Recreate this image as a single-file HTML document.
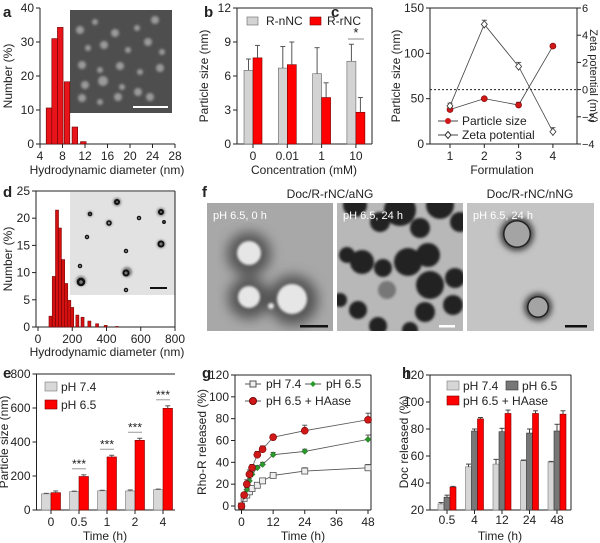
<!DOCTYPE html>
<html><head><meta charset="utf-8"><style>
html,body{margin:0;padding:0;background:#fff;}
svg{display:block;font-family:"Liberation Sans",Arial,sans-serif;}
text{fill:#222;}
</style></head><body>
<svg id="fig" width="600" height="543" viewBox="0 0 600 543" xmlns="http://www.w3.org/2000/svg">
<defs>
<filter id="blur1"><feGaussianBlur stdDeviation="1.2"/></filter>
<filter id="blur3"><feGaussianBlur stdDeviation="3"/></filter>
<filter id="blur6"><feGaussianBlur stdDeviation="6"/></filter>
<clipPath id="clipF1"><rect x="207" y="203" width="126" height="128"/></clipPath>
<clipPath id="clipF2"><rect x="337" y="203" width="126" height="128"/></clipPath>
<clipPath id="clipF3"><rect x="467" y="203" width="127" height="128"/></clipPath>
</defs>
<g>
<rect x="70" y="10" width="102" height="103" fill="#4e4e4e"/>
<g fill="#9a9a9a" filter="url(#blur1)">
<circle cx="80" cy="30" r="4"/><circle cx="95" cy="22" r="3"/><circle cx="115" cy="33" r="4"/><circle cx="137" cy="28" r="3"/><circle cx="155" cy="20" r="4"/><circle cx="88" cy="48" r="3"/><circle cx="104" cy="45" r="4"/><circle cx="128" cy="50" r="3"/><circle cx="148" cy="42" r="4"/><circle cx="162" cy="52" r="3"/><circle cx="82" cy="65" r="4"/><circle cx="100" cy="70" r="3"/><circle cx="120" cy="66" r="4"/><circle cx="140" cy="72" r="3"/><circle cx="160" cy="68" r="4"/><circle cx="85" cy="85" r="4"/><circle cx="103" cy="81" r="5"/><circle cx="122" cy="87" r="3"/><circle cx="138" cy="92" r="4"/><circle cx="82" cy="98" r="4"/><circle cx="100" cy="102" r="3"/><circle cx="118" cy="97" r="4"/><circle cx="150" cy="97" r="4"/>
</g>
<rect x="133" y="106" width="35" height="2" fill="#fff"/>
</g>
<g>
<rect x="70" y="192" width="105" height="103" fill="#e2e2e2"/>
<g fill="#777" filter="url(#blur1)">
<circle cx="117" cy="202" r="4"/><circle cx="161" cy="212" r="4"/><circle cx="109" cy="223" r="3"/><circle cx="161" cy="244" r="4"/><circle cx="127" cy="272" r="5"/><circle cx="81" cy="281" r="5"/><circle cx="90" cy="214" r="2.5"/>
</g>
<g fill="none" stroke="#111" stroke-width="1.5">
<circle cx="117" cy="202" r="2" stroke-width="2"/><circle cx="161" cy="212" r="2" stroke-width="2"/><circle cx="90" cy="214" r="1.5"/><circle cx="109" cy="223" r="2"/><circle cx="139" cy="218" r="1.5"/><circle cx="164" cy="222" r="1.2"/><circle cx="87" cy="237" r="1.5"/><circle cx="161" cy="244" r="2.5" stroke-width="2"/><circle cx="126" cy="251" r="1.5"/><circle cx="80" cy="266" r="1.5"/><circle cx="126" cy="273" r="2.5" stroke-width="2"/><circle cx="81" cy="282" r="3" stroke-width="2.5"/><circle cx="126" cy="290" r="1.5"/>
</g>
<rect x="150" y="287" width="17" height="2" fill="#111"/>
</g>
<g>
<g clip-path="url(#clipF1)">
<rect x="207" y="203" width="126" height="128" fill="#a8a8a8"/>
<g fill="#555" filter="url(#blur6)"><circle cx="249" cy="254" r="22"/><circle cx="249" cy="298" r="21"/><circle cx="293" cy="300" r="25"/><rect x="240" y="290" width="60" height="20"/></g>
<g fill="#e6e6e6" filter="url(#blur1)"><circle cx="249" cy="253" r="12"/><circle cx="249" cy="297" r="11"/><circle cx="292" cy="299" r="15"/><circle cx="271" cy="306" r="3"/></g>
</g>
<rect x="300" y="325" width="28" height="2.5" fill="#111"/>
<text x="213" y="219" font-size="11" style="fill:#fff">pH 6.5, 0 h</text>
</g>
<g>
<g clip-path="url(#clipF2)">
<rect x="337" y="203" width="126" height="128" fill="#b8b8b8"/>
<g fill="#222" filter="url(#blur1)">
<circle cx="355" cy="205" r="12"/><circle cx="400" cy="210" r="16"/><circle cx="440" cy="205" r="14"/><circle cx="460" cy="222" r="10"/><circle cx="380" cy="222" r="10"/><circle cx="420" cy="228" r="10"/>
<circle cx="347" cy="255" r="8"/><circle cx="362" cy="262" r="12"/><circle cx="383" cy="268" r="9"/><circle cx="408" cy="262" r="14"/><circle cx="428" cy="255" r="12"/><circle cx="430" cy="285" r="14"/><circle cx="455" cy="278" r="10"/><circle cx="453" cy="305" r="10"/><circle cx="425" cy="312" r="10"/><circle cx="358" cy="310" r="9"/><circle cx="378" cy="326" r="9"/><circle cx="410" cy="330" r="8"/><circle cx="340" cy="300" r="7"/>
</g>
<circle cx="387" cy="290" r="9" fill="#777" filter="url(#blur1)"/>
</g>
<rect x="439" y="325" width="16" height="2.5" fill="#fff"/>
<text x="343" y="219" font-size="11" style="fill:#fff">pH 6.5, 24 h</text>
</g>
<g>
<g clip-path="url(#clipF3)">
<rect x="467" y="203" width="127" height="128" fill="#c4c4c4"/>
<g fill="#444" filter="url(#blur3)"><circle cx="517" cy="234" r="17"/><circle cx="538" cy="307" r="14"/></g>
<g fill="#222"><circle cx="517" cy="234" r="14"/><circle cx="538" cy="307" r="11"/></g>
<g fill="#a4a4a4"><circle cx="517" cy="234" r="12.5"/><circle cx="538" cy="307" r="9.5"/></g>
</g>
<rect x="565" y="325" width="22" height="2.5" fill="#111"/>
<text x="473" y="219" font-size="11" style="fill:#fff">pH 6.5, 24 h</text>
</g>
<text x="330" y="198" font-size="12" text-anchor="middle">Doc/R-rNC/aNG</text>
<text x="530" y="198" font-size="12" text-anchor="middle">Doc/R-rNC/nNG</text>
<g font-weight="bold" font-size="15">
<text x="3" y="17">a</text>
<text x="204" y="17">b</text>
<text x="331" y="17">c</text>
<text x="3" y="197">d</text>
<text x="202" y="197">f</text>
<text x="3" y="378">e</text>
<text x="202" y="378">g</text>
<text x="402" y="378">h</text>
</g>
</svg>
<script>
// ---- data ----
const aDiam = [5.6, 6.6, 7.6, 8.8, 10.2, 11.7];
const aNumber = [10.6, 31, 34.3, 18.3, 5, 0.7];
const aTicksX = [4, 8, 12, 16, 20, 24, 28];
const aTicksY = [0, 10, 20, 30, 40];

const bCategories = ["0", "0.01", "1", "10"];
const bNNC = [6.5, 6.7, 6.2, 7.3];
const bNNCErr = [1.0, 1.9, 2.3, 1.5];
const bRNC = [7.6, 7.0, 4.1, 2.8];
const bRNCErr = [1.1, 2.0, 1.3, 1.3];
const bTicksY = [0, 3, 6, 9, 12];

const cCategories = [1, 2, 3, 4];
const cSize = [38, 50, 43, 108];
const cSizeErr = [2, 1.5, 3, 2];
const cZeta = [-1.2, 4.8, 1.7, -3.1];
const cZetaErr = [0.2, 0.3, 0.3, 0.3];
const cTicksL = [0, 50, 100, 150];
const cTicksR = [-4, -2, 0, 2, 4, 6];

const dDiam = [73, 92, 111, 128, 147, 165, 183, 200, 230, 260, 300, 345, 395, 461];
const dNumber = [2, 9.3, 21.5, 18.2, 12.4, 8, 4.9, 3.6, 2.2, 1.8, 1.1, 0.6, 0.3, 0.1];
const dTicksX = [0, 200, 400, 600, 800];
const dTicksY = [0, 5, 10, 15, 20, 25];

const eCategories = ["0", "0.5", "1", "2", "4"];
const e74 = [95, 108, 113, 112, 120];
const e74Err = [3, 3, 3, 6, 3];
const e65 = [102, 197, 312, 410, 598];
const e65Err = [10, 10, 10, 12, 15];
const eSig = [false, true, true, true, true];
const eTicksY = [0, 200, 400, 600, 800];

const gTime = [0, 1, 2, 3, 4, 6, 8, 12, 24, 48];
const g74 = [0, 7, 10, 13, 16, 19, 23, 28, 32, 35];
const g74Err = [1, 1, 1, 2, 2, 2, 2, 2, 3, 3];
const g65 = [0, 9, 15, 23, 29, 35, 38, 47, 50, 61];
const g65Err = [1, 1, 2, 2, 2, 2, 2, 2, 2, 4];
const gHA = [0, 10, 20, 29, 35, 47, 52, 63, 69, 79];
const gHAErr = [1, 2, 4, 4, 3, 3, 3, 2, 5, 6];
const gTicksX = [0, 12, 24, 36, 48];
const gTicksY = [0, 20, 40, 60, 80, 100, 120];

const hCategories = ["0.5", "4", "12", "24", "48"];
const h74 = [24.5, 52, 54, 56.5, 55.5];
const h74Err = [1, 2, 3.5, 0.5, 0.5];
const h65 = [29.5, 78.5, 78, 77, 78.5];
const h65Err = [1.5, 1.5, 2.5, 3, 5];
const hHA = [37, 87.5, 91.5, 91.5, 91];
const hHAErr = [0.5, 1, 2.5, 2, 2.5];
const hTicksY = [20, 40, 60, 80, 100, 120];

// ---- scales ----
const xA = v => 40 + (v - 4) * 135 / 24, yA = v => 144 - v * 136 / 40;
const xB = i => 253 + i * 34.3, yB = v => 144 - v * 136 / 12;
const xC = c => 450 + (c - 1) * 34.3, yCL = v => 144 - v * 136 / 150, yCR = v => 8 + (6 - v) * 13.6;
const xD = v => 38 + v * 137 / 800, yD = v => 327 - v * 136 / 25;
const xE = i => 51 + i * 28, yE = v => 510 - v * 136 / 800;
const xG = v => 241.5 + v * 126.5 / 48, yG = v => 506 - v * 131 / 120;
const xH = i => 447 + i * 27.5, yH = v => 510 - (v - 20) * 1.35;

const svg = document.getElementById('fig');
const NS = 'http://www.w3.org/2000/svg';
function mk(tag, attrs, name, txt) {
  const el = document.createElementNS(NS, tag);
  for (const k in attrs) el.setAttribute(k, attrs[k]);
  
  
  if (txt !== undefined) el.textContent = txt;
  svg.appendChild(el);
  return el;
}
function line(x1, y1, x2, y2, name, extra) {
  return mk('line', Object.assign({x1, y1, x2, y2, stroke: '#222', 'stroke-width': 1}, extra || {}), name);
}
function txt(x, y, s, name, extra) {
  return mk('text', Object.assign({x, y, 'font-size': 11}, extra || {}), name, s);
}
function vtitle(x, y, s, name, rot, fs) {
  return mk('text', {x, y, 'font-size': fs || 12, 'text-anchor': 'middle', transform: `rotate(${rot || -90} ${x} ${y})`}, name, s);
}
function yAxis(x, yTop, yBot, ticks, sc, name, right) {
  line(x, yTop, x, yBot, name + '-line');
  ticks.forEach(t => {
    const y = sc(t);
    line(right ? x : x - 4, y, right ? x + 4 : x, y, name + '-tick');
    txt(right ? x + 5 : x - 6, y + 4, String(t).replace('-', '\u2212'), name + '-tick-label', {'text-anchor': right ? 'start' : 'end', 'font-size': right ? 11 : 12});
  });
}
function errBar(x, y0, y1, name, col) {
  line(x, y0, x, y1, name, {stroke: col || '#222'});
  line(x - 2.5, y1, x + 2.5, y1, name, {stroke: col || '#222'});
}
function frame(x1, y1, x2, y2, name) {
  line(x1, y1, x2, y1, name + '-top');
  line(x2, y1, x2, y2, name + '-right');
}

// ---- panel a ----
yAxis(40, 8, 144, aTicksY, yA, 'a-y-axis');
line(40, 144, 175, 144, 'a-x-axis-line');
aTicksX.forEach(t => { line(xA(t), 144, xA(t), 148, 'a-x-tick'); txt(xA(t), 160, t, 'a-x-tick-label', {'text-anchor': 'middle', 'font-size': 12}); });
aDiam.forEach((d, i) => {
  mk('rect', {x: xA(d - 0.5), y: yA(aNumber[i]), width: xA(d + 0.5) - xA(d - 0.5), height: 144 - yA(aNumber[i]), fill: '#e8141a', stroke: '#6a0000', 'stroke-width': 0.6}, 'a-bar');
});
vtitle(12, 76, 'Number (%)', 'a-y-axis-title');
txt(107, 174, 'Hydrodynamic diameter (nm)', 'a-x-axis-title', {'text-anchor': 'middle', 'font-size': 12});

// ---- panel b ----
yAxis(237, 8, 144, bTicksY, yB, 'b-y-axis');
line(237, 144, 372, 144, 'b-x-axis-line');
frame(237, 8, 372, 144, 'b-frame');
bCategories.forEach((c, i) => {
  const cx = xB(i);
  line(cx, 144, cx, 148, 'b-x-tick');
  txt(cx, 160, c, 'b-x-tick-label', {'text-anchor': 'middle', 'font-size': 12});
  mk('rect', {x: cx - 9, y: yB(bNNC[i]), width: 9, height: 144 - yB(bNNC[i]), fill: '#d3d3d3', stroke: '#666', 'stroke-width': 0.6}, 'b-bar-r-nnc');
  mk('rect', {x: cx, y: yB(bRNC[i]), width: 9, height: 144 - yB(bRNC[i]), fill: '#f00', stroke: '#700', 'stroke-width': 0.6}, 'b-bar-r-rnc');
  errBar(cx - 4.5, yB(bNNC[i]), yB(bNNC[i] + bNNCErr[i]), 'b-error-bar', '#555');
  errBar(cx + 4.5, yB(bRNC[i]), yB(bRNC[i] + bRNCErr[i]), 'b-error-bar', '#555');
});
line(xB(3) - 8, 39, xB(3) + 8, 39, 'b-significance-line', {stroke: '#888'});
txt(xB(3), 37, '*', 'b-significance-star', {'text-anchor': 'middle', 'font-size': 13});
mk('rect', {x: 247, y: 17, width: 11, height: 8, fill: '#d3d3d3', stroke: '#666', 'stroke-width': 0.6}, 'b-legend-swatch-r-nnc');
txt(266, 25, 'R-nNC', 'b-legend-label-r-nnc', {'font-size': 12});
mk('rect', {x: 310, y: 17, width: 11, height: 8, fill: '#f00', stroke: '#700', 'stroke-width': 0.6}, 'b-legend-swatch-r-rnc');
txt(327, 25, 'R-rNC', 'b-legend-label-r-rnc', {'font-size': 12});
vtitle(208, 76, 'Particle size (nm)', 'b-y-axis-title');
txt(304, 174, 'Concentration (mM)', 'b-x-axis-title', {'text-anchor': 'middle', 'font-size': 12});

// ---- panel c ----
yAxis(430, 8, 144, cTicksL, yCL, 'c-left-y-axis');
yAxis(577, 8, 144, cTicksR, yCR, 'c-right-y-axis', true);
line(430, 144, 577, 144, 'c-x-axis-line');
line(430, 8, 577, 8, 'c-frame-top');
line(430, yCR(0), 577, yCR(0), 'c-zero-line', {'stroke-dasharray': '2,2'});
cCategories.forEach(c => { line(xC(c), 144, xC(c), 148, 'c-x-tick'); txt(xC(c), 160, c, 'c-x-tick-label', {'text-anchor': 'middle', 'font-size': 12}); });
mk('polyline', {points: cCategories.map((c, i) => xC(c) + ',' + yCL(cSize[i])).join(' '), fill: 'none', stroke: '#444', 'stroke-width': 0.8}, 'c-particle-size-line');
mk('polyline', {points: cCategories.map((c, i) => xC(c) + ',' + yCR(cZeta[i])).join(' '), fill: 'none', stroke: '#444', 'stroke-width': 0.8}, 'c-zeta-line');
cCategories.forEach((c, i) => {
  errBar(xC(c), yCL(cSize[i] - cSizeErr[i]), yCL(cSize[i] + cSizeErr[i]), 'c-size-error-bar', '#555');
  mk('circle', {cx: xC(c), cy: yCL(cSize[i]), r: 3, fill: '#d01818', stroke: '#700', 'stroke-width': 0.6}, 'c-particle-size-point');
  errBar(xC(c), yCR(cZeta[i] - cZetaErr[i]), yCR(cZeta[i] + cZetaErr[i]), 'c-zeta-error-bar', '#555');
  const x = xC(c), y = yCR(cZeta[i]);
  mk('polygon', {points: `${x},${y - 3.5} ${x + 3},${y} ${x},${y + 3.5} ${x - 3},${y}`, fill: '#fff', stroke: '#333', 'stroke-width': 0.8}, 'c-zeta-point');
});
line(438, 121, 458, 121, 'c-legend-line-size', {stroke: '#444'});
mk('circle', {cx: 448, cy: 121, r: 3, fill: '#d01818'}, 'c-legend-marker-size');
txt(462, 125, 'Particle size', 'c-legend-label-size', {'font-size': 12});
line(438, 135, 458, 135, 'c-legend-line-zeta', {stroke: '#444'});
mk('polygon', {points: '448,131.5 451,135 448,138.5 445,135', fill: '#fff', stroke: '#333'}, 'c-legend-marker-zeta');
txt(462, 139, 'Zeta potential', 'c-legend-label-zeta', {'font-size': 12});
vtitle(400, 76, 'Particle size (nm)', 'c-left-y-axis-title');
vtitle(590, 76, 'Zeta potential (mV)', 'c-right-y-axis-title', 90, 11);
txt(502, 174, 'Formulation', 'c-x-axis-title', {'text-anchor': 'middle', 'font-size': 12});

// ---- panel d ----
yAxis(36, 191, 327, dTicksY, yD, 'd-y-axis');
line(36, 327, 175, 327, 'd-x-axis-line');
frame(36, 191, 175, 327, 'd-frame');
dTicksX.forEach(t => { line(xD(t), 327, xD(t), 331, 'd-x-tick'); txt(xD(t), 343, t, 'd-x-tick-label', {'text-anchor': 'middle', 'font-size': 12}); });
dDiam.forEach((d, i) => {
  mk('rect', {x: xD(d - 9), y: yD(dNumber[i]), width: xD(d + 9) - xD(d - 9), height: 327 - yD(dNumber[i]), fill: '#d41010', stroke: '#6a0000', 'stroke-width': 0.5}, 'd-bar');
});
vtitle(12, 259, 'Number (%)', 'd-y-axis-title');
txt(107, 356, 'Hydrodynamic diameter (nm)', 'd-x-axis-title', {'text-anchor': 'middle', 'font-size': 12});

// ---- panel e ----
yAxis(36.5, 374, 510, eTicksY, yE, 'e-y-axis');
line(36.5, 510, 175, 510, 'e-x-axis-line');
line(36.5, 374, 175, 374, 'e-frame-top');
eCategories.forEach((c, i) => {
  const cx = xE(i);
  line(cx, 510, cx, 514, 'e-x-tick');
  txt(cx, 526, c, 'e-x-tick-label', {'text-anchor': 'middle', 'font-size': 12});
  mk('rect', {x: cx - 9.5, y: yE(e74[i]), width: 9.5, height: 510 - yE(e74[i]), fill: '#d8d8d8', stroke: '#777', 'stroke-width': 0.6}, 'e-bar-ph74');
  mk('rect', {x: cx, y: yE(e65[i]), width: 9.5, height: 510 - yE(e65[i]), fill: '#f00', stroke: '#700', 'stroke-width': 0.6}, 'e-bar-ph65');
  errBar(cx - 4.75, yE(e74[i]), yE(e74[i] + e74Err[i]), 'e-error-bar', '#555');
  errBar(cx + 4.75, yE(e65[i]), yE(e65[i] + e65Err[i]), 'e-error-bar', '#555');
  if (eSig[i]) {
    const y = yE(e65[i] + e65Err[i]) - 6;
    line(cx - 7, y, cx + 7, y, 'e-significance-line', {stroke: '#999'});
    txt(cx, y - 1, '***', 'e-significance-stars', {'text-anchor': 'middle', 'font-size': 12});
  }
});
mk('rect', {x: 45, y: 382, width: 12, height: 9, fill: '#d8d8d8', stroke: '#777', 'stroke-width': 0.6}, 'e-legend-swatch-ph74');
txt(61, 391, 'pH 7.4', 'e-legend-label-ph74', {'font-size': 12});
mk('rect', {x: 45, y: 400, width: 12, height: 9, fill: '#f00', stroke: '#700', 'stroke-width': 0.6}, 'e-legend-swatch-ph65');
txt(61, 409, 'pH 6.5', 'e-legend-label-ph65', {'font-size': 12});
vtitle(8, 442, 'Particle size (nm)', 'e-y-axis-title');
txt(105, 540, 'Time (h)', 'e-x-axis-title', {'text-anchor': 'middle', 'font-size': 12});

// ---- panel g ----
yAxis(235, 375, 510, gTicksY, yG, 'g-y-axis');
line(235, 510, 371, 510, 'g-x-axis-line');
frame(235, 375, 371, 510, 'g-frame');
gTicksX.forEach(t => { line(xG(t), 510, xG(t), 514, 'g-x-tick'); txt(xG(t), 526, t, 'g-x-tick-label', {'text-anchor': 'middle', 'font-size': 12}); });
[[g74, g74Err, 'ph74'], [g65, g65Err, 'ph65'], [gHA, gHAErr, 'ph65-haase']].forEach(([vals, errs, key]) => {
  mk('polyline', {points: gTime.map((t, i) => xG(t) + ',' + yG(vals[i])).join(' '), fill: 'none', stroke: '#555', 'stroke-width': 0.8}, 'g-line-' + key);
  gTime.forEach((t, i) => {
    errBar(xG(t), yG(vals[i]), yG(vals[i] + errs[i]), 'g-error-bar', '#555');
    const x = xG(t), y = yG(vals[i]);
    if (key === 'ph74') mk('rect', {x: x - 3, y: y - 3, width: 6, height: 6, fill: '#eee', stroke: '#555', 'stroke-width': 0.8}, 'g-point-ph74');
    else if (key === 'ph65') mk('polygon', {points: `${x},${y - 3} ${x + 3},${y} ${x},${y + 3} ${x - 3},${y}`, fill: '#2a9a2a', stroke: '#165016', 'stroke-width': 0.5}, 'g-point-ph65');
    else mk('circle', {cx: x, cy: y, r: 3.5, fill: '#d01818', stroke: '#700', 'stroke-width': 0.6}, 'g-point-ph65-haase');
  });
});
line(245, 384, 261, 384, 'g-legend-line-ph74', {stroke: '#555'});
mk('rect', {x: 250, y: 381, width: 6, height: 6, fill: '#eee', stroke: '#555'}, 'g-legend-marker-ph74');
txt(266, 388, 'pH 7.4', 'g-legend-label-ph74', {'font-size': 12});
line(305, 384, 321, 384, 'g-legend-line-ph65', {stroke: '#555'});
mk('polygon', {points: '313,381 316,384 313,387 310,384', fill: '#2a9a2a'}, 'g-legend-marker-ph65');
txt(326, 388, 'pH 6.5', 'g-legend-label-ph65', {'font-size': 12});
line(245, 401, 261, 401, 'g-legend-line-ph65-haase', {stroke: '#555'});
mk('circle', {cx: 253, cy: 401, r: 3.5, fill: '#d01818', stroke: '#700'}, 'g-legend-marker-ph65-haase');
txt(266, 405, 'pH 6.5 + HAase', 'g-legend-label-ph65-haase', {'font-size': 12});
vtitle(206, 442, 'Rho-R released (%)', 'g-y-axis-title');
txt(303, 540, 'Time (h)', 'g-x-axis-title', {'text-anchor': 'middle', 'font-size': 12});

// ---- panel h ----
yAxis(430, 375, 510, hTicksY, yH, 'h-y-axis');
line(430, 510, 571, 510, 'h-x-axis-line');
frame(430, 375, 571, 510, 'h-frame');
hCategories.forEach((c, i) => {
  const cx = xH(i);
  line(cx, 510, cx, 514, 'h-x-tick');
  txt(cx, 524, c, 'h-x-tick-label', {'text-anchor': 'middle', 'font-size': 12});
  [[h74, h74Err, -9, '#d6d6d6', '#777', 'ph74'], [h65, h65Err, -3, '#777', '#333', 'ph65'], [hHA, hHAErr, 3, '#f00', '#700', 'ph65-haase']].forEach(([v, e, off, f, s, key]) => {
    mk('rect', {x: cx + off, y: yH(v[i]), width: 6, height: 510 - yH(v[i]), fill: f, stroke: s, 'stroke-width': 0.6}, 'h-bar-' + key);
    errBar(cx + off + 3, yH(v[i]), yH(v[i] + e[i]), 'h-error-bar', '#444');
  });
});
mk('rect', {x: 447, y: 381, width: 12, height: 9, fill: '#d6d6d6', stroke: '#777', 'stroke-width': 0.6}, 'h-legend-swatch-ph74');
txt(463, 390, 'pH 7.4', 'h-legend-label-ph74', {'font-size': 12});
mk('rect', {x: 506, y: 381, width: 12, height: 9, fill: '#777', stroke: '#333', 'stroke-width': 0.6}, 'h-legend-swatch-ph65');
txt(522, 390, 'pH 6.5', 'h-legend-label-ph65', {'font-size': 12});
mk('rect', {x: 447, y: 396, width: 12, height: 9, fill: '#f00', stroke: '#700', 'stroke-width': 0.6}, 'h-legend-swatch-ph65-haase');
txt(463, 405, 'pH 6.5 + HAase', 'h-legend-label-ph65-haase', {'font-size': 12});
vtitle(408, 442, 'Doc released (%)', 'h-y-axis-title');
txt(500, 540, 'Time (h)', 'h-x-axis-title', {'text-anchor': 'middle', 'font-size': 12});
</script>
</body></html>
